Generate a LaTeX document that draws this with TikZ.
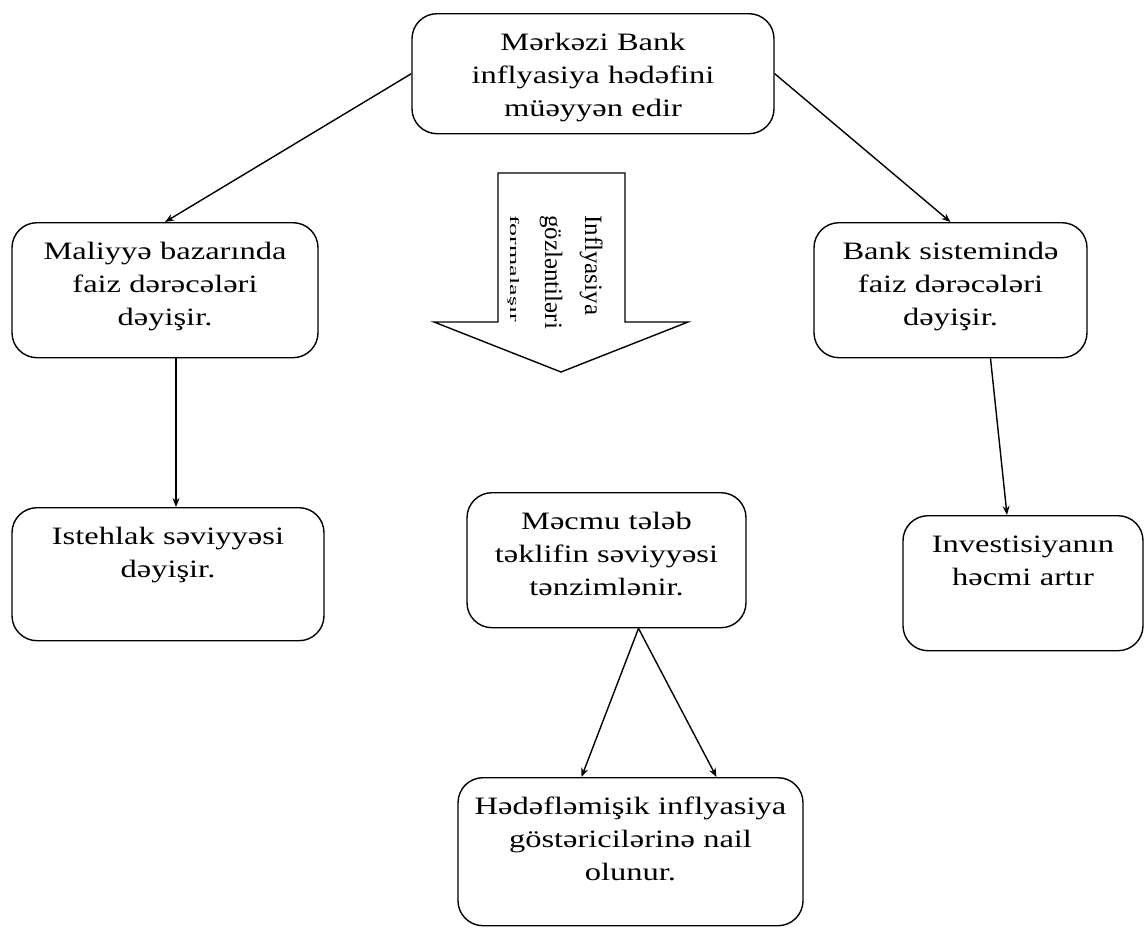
\documentclass[tikz,border=0pt]{standalone}
\usepackage{fontspec}
\setmainfont{Liberation Serif}[FakeStretch=1.3]
\newfontfamily\plainfont{Liberation Serif}
\newfontfamily\narrowfont{Liberation Serif}[FakeStretch=2.0]
\usetikzlibrary{arrows.meta}
\begin{document}
\begin{tikzpicture}[x=1pt,y=-1pt]
\tikzstyle{mybox} = [draw, line width=1.4pt, rounded corners=25pt, anchor=north,
  inner xsep=6pt, inner ysep=0pt, align=center, text height=37pt,
  font=\fontsize{25pt}{33pt}\selectfont]
\tikzstyle{myarrow} = [draw, line width=1.4pt, -{Stealth[length=9pt,width=7pt]}]
\useasboundingbox (0,0) rectangle (1145,929);
% boxes
\node[mybox, text width=350pt, text depth=83pt] (bank) at (593,13)
  {Mərkəzi Bank\\inflyasiya hədəfini\\müəyyən edir};
\node[mybox, text width=294pt, text depth=98pt] (maliyye) at (165,222)
  {Maliyyə bazarında\\faiz dərəcələri\\dəyişir.};
\node[mybox, text width=261pt, text depth=98pt] (banksis) at (950.5,222)
  {Bank sistemində\\faiz dərəcələri\\dəyişir.};
\node[mybox, text width=300pt, text depth=96pt] (istehlak) at (168,507)
  {Istehlak səviyyəsi\\dəyişir.};
\node[mybox, text width=267pt, text depth=98pt] (mecmu) at (606.5,492)
  {Məcmu tələb\\təklifin səviyyəsi\\tənzimlənir.};
\node[mybox, text width=228pt, text depth=98pt] (invest) at (1023,515)
  {Investisiyanın\\həcmi artır};
\node[mybox, text width=333pt, text depth=111pt] (hedef) at (630.5,777)
  {Hədəfləmişik inflyasiya\\göstəricilərinə nail\\olunur.};
% block arrow
\draw[line width=1.4pt] (498,173) -- (625,173) -- (625,322) -- (688,322)
  -- (561,372) -- (434,322) -- (498,322) -- cycle;
\node[rotate=-90, anchor=base west, text width=120pt, align=left, inner sep=0pt,
  font=\plainfont\fontsize{25pt}{40pt}\selectfont] (axin) at (585,215)
  {Inflyasiya\\gözləntiləri\\[-5pt]{\narrowfont\fontsize{13pt}{34pt}\selectfont formalaşır}};
% connectors
\draw[myarrow] (bank.west) -- (maliyye.north);
\draw[myarrow] (bank.east) -- (banksis.north);
\draw[myarrow] ([xshift=11pt]maliyye.south) -- ([xshift=8pt]istehlak.north);
\draw[myarrow] ([xshift=40pt]banksis.south) -- ([xshift=-16pt]invest.north);
\draw[myarrow] ([xshift=32pt]mecmu.south) -- ([xshift=-49pt]hedef.north);
\draw[myarrow] ([xshift=32pt]mecmu.south) -- ([xshift=86pt]hedef.north);
\end{tikzpicture}
\end{document}
